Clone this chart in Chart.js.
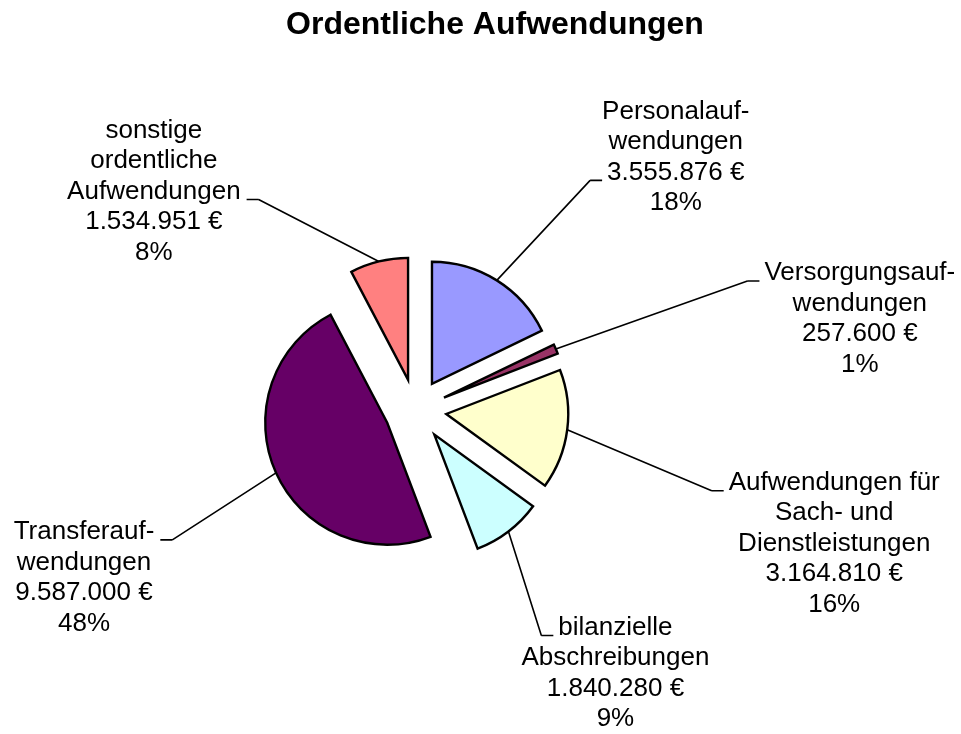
<!DOCTYPE html>
<html lang="de">
<head>
<meta charset="utf-8">
<title>Ordentliche Aufwendungen</title>
<script src="https://cdn.jsdelivr.net/npm/chart.js@4/dist/chart.umd.min.js"></script>
<style>
    html, body { margin: 0; padding: 0; background: #fff; }
    #wrap { width: 961px; height: 734px; position: relative; }
</style>
</head>
<body>
<div id="wrap"><canvas id="grafico"></canvas></div>
<script>
const titulo = 'Ordentliche Aufwendungen';

const categorias = [
    ['Personalauf-', 'wendungen'],
    ['Versorgungsauf-', 'wendungen'],
    ['Aufwendungen für', 'Sach- und', 'Dienstleistungen'],
    ['bilanzielle', 'Abschreibungen'],
    ['Transferauf-', 'wendungen'],
    ['sonstige', 'ordentliche', 'Aufwendungen']
];
const valores = [3555876, 257600, 3164810, 1840280, 9587000, 1534951];
const colores = ['#9999FF', '#993366', '#FFFFCC', '#CCFFFF', '#660066', '#FF8080'];

const fuente = '"Liberation Sans", Arial, sans-serif';

const formatoEuro = (v) => String(v).replace(/\B(?=(\d{3})+(?!\d))/g, '.') + ' €';

// layout of the data labels, relative to the outer middle of each slice
const etiquetas = [
    { dx: 179, dy: -169, linea: 2, lado: 'left' },
    { dx: 304, dy: -76, linea: 0, lado: 'left' },
    { dx: 267, dy: 53, linea: 0, lado: 'left' },
    { dx: 107, dy: 96, linea: 0, lado: 'left' },
    { dx: -192, dy: 59, linea: 0, lado: 'right' },
    { dx: -225, dy: -131, linea: 2, lado: 'right' }
];

// pulls every slice out of the centre
const explotar = {
    id: 'explotar',
    afterDatasetUpdate(chart, args, opts) {
        args.meta.data.forEach(arc => {
            const mid = (arc.startAngle + arc.endAngle) / 2;
            arc.x += Math.cos(mid) * opts.distancia;
            arc.y += Math.sin(mid) * opts.distancia;
        });
    }
};

const rotulos = {
    id: 'rotulos',
    afterDraw(chart) {
        const ctx = chart.ctx;
        const arcs = chart.getDatasetMeta(0).data;
        const total = valores.reduce((a, b) => a + b, 0);

        ctx.save();
        ctx.fillStyle = '#000';
        ctx.font = 'bold 32px ' + fuente;
        ctx.textAlign = 'center';
        ctx.textBaseline = 'alphabetic';
        ctx.fillText(titulo, 495, 34);

        ctx.font = '26px ' + fuente;
        ctx.textBaseline = 'middle';
        ctx.strokeStyle = '#000';
        ctx.lineWidth = 1.6;

        arcs.forEach((arc, i) => {
            const mid = (arc.startAngle + arc.endAngle) / 2;
            const ax = arc.x + Math.cos(mid) * arc.outerRadius;
            const ay = arc.y + Math.sin(mid) * arc.outerRadius;
            const cfg = etiquetas[i];
            const lineas = categorias[i].concat([
                formatoEuro(valores[i]),
                Math.round(valores[i] / total * 100) + '%'
            ]);
            const cx = ax + cfg.dx;
            const cy = ay + cfg.dy;
            const alto = 30.5;

            lineas.forEach((t, k) => ctx.fillText(t, cx, cy + k * alto));

            const w = ctx.measureText(lineas[cfg.linea]).width;
            const sy = cy + cfg.linea * alto + 8;
            let x0, x1, xf;
            if (cfg.lado === 'right') {
                x0 = cx + w / 2 + 6; x1 = x0 + 12; xf = x1;
            } else {
                x1 = cx - w / 2 - 5; x0 = x1 - 12; xf = x0;
            }
            ctx.beginPath();
            ctx.moveTo(x0, sy);
            ctx.lineTo(x1, sy);
            ctx.moveTo(xf, sy);
            ctx.lineTo(ax, ay);
            ctx.stroke();
        });
        ctx.restore();
    }
};

const ctxGrafico = document.getElementById('grafico').getContext('2d');
new Chart(ctxGrafico, {
    type: 'pie',
    data: {
        labels: categorias,
        datasets: [{
            data: valores,
            backgroundColor: colores,
            borderColor: '#000',
            borderWidth: 2.4,
            borderJoinStyle: 'miter',
            borderAlign: 'center'
        }]
    },
    options: {
        responsive: true,
        maintainAspectRatio: false,
        animation: false,
        radius: 122,
        layout: {
            padding: { left: 292.5, right: 422.5, top: 287, bottom: 201 }
        },
        plugins: {
            legend: { display: false },
            title: { display: false },
            tooltip: { enabled: false },
            explotar: { distancia: 31 }
        },
        events: []
    },
    plugins: [explotar, rotulos]
});
</script>
</body>
</html>
